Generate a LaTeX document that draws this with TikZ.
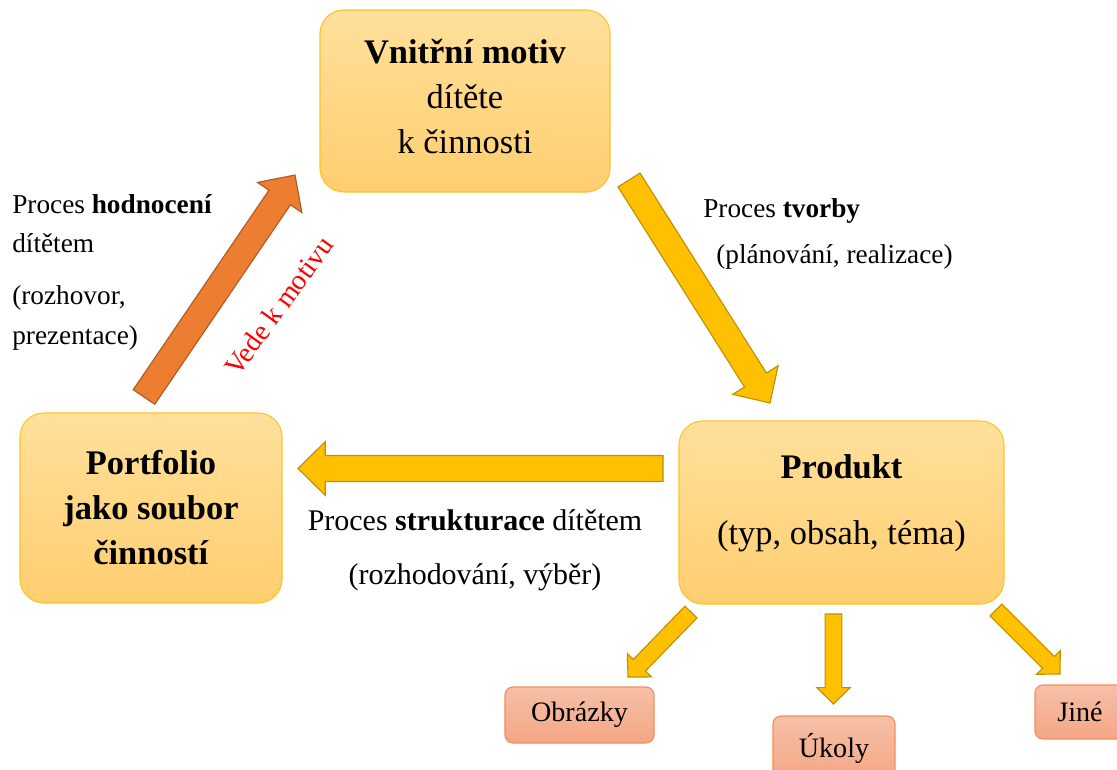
\documentclass[tikz,border=0pt]{standalone}
\usepackage{fontspec}
\setmainfont{Liberation Serif}
\usetikzlibrary{calc}

\definecolor{boxtop}{RGB}{255,224,155}
\definecolor{boxbottom}{RGB}{255,206,112}
\definecolor{boxline}{RGB}{255,196,40}
\definecolor{tagtop}{RGB}{246,192,168}
\definecolor{tagbottom}{RGB}{244,166,132}
\definecolor{tagline}{RGB}{241,143,92}
\definecolor{goldfill}{RGB}{255,192,0}
\definecolor{goldline}{RGB}{191,144,0}
\definecolor{orangefill}{RGB}{237,125,49}
\definecolor{orangeline}{RGB}{174,90,33}

\begin{document}
\begin{tikzpicture}[
		x=0.025cm, y=-0.025cm,
		bigbox/.style={rectangle, rounded corners=0.6cm, draw=boxline, line width=0.8pt, top color=boxtop, bottom color=boxbottom, align=center, font=\fontsize{24.5}{32}\selectfont},
		tagbox/.style={rectangle, rounded corners=0.2cm, draw=tagline, line width=0.8pt, top color=tagtop, bottom color=tagbottom, font=\fontsize{20}{24}\selectfont},
		caption/.style={inner sep=0pt, align=left, font=\fontsize{19.4}{28}\selectfont},
		blockarrow/.style n args={3}{to path={($(\tikztotarget)!#3!(\tikztostart)$) coordinate (head base)
			($(\tikztostart)!#1!90:(\tikztotarget)$) -- ($(head base)!#1!90:(\tikztotarget)$) -- ($(head base)!#2!90:(\tikztotarget)$) -- (\tikztotarget)
			-- ($(head base)!#2!-90:(\tikztotarget)$) -- ($(head base)!#1!-90:(\tikztotarget)$) -- ($(\tikztostart)!#1!-90:(\tikztotarget)$) -- cycle}},
		bigarrow/.style={blockarrow={0.325cm}{0.67cm}{0.68cm}, line width=0.8pt, draw=goldline, fill=goldfill},
		smallarrow/.style={blockarrow={0.21cm}{0.42cm}{0.41cm}, line width=0.8pt, draw=goldline, fill=goldfill}
		]
		\path[use as bounding box, clip] (0, 0) rectangle (1117, 769);

		\node at (465, 101) [name=motive, bigbox, minimum width=7.25cm, minimum height=4.55cm, text depth=7pt] {\textbf{Vnitřní motiv}\\ dítěte\\ k činnosti};
		\node at (151, 508) [name=portfolio, bigbox, minimum width=6.55cm, minimum height=4.75cm] {\textbf{Portfolio}\\ \textbf{jako soubor}\\ \textbf{činností}};
		\node at (841.5, 512.5) [name=product, bigbox, minimum width=8.125cm, minimum height=4.575cm, text depth=18pt] {\textbf{Produkt}\\[15pt] (typ, obsah, téma)};

		\node at (579.5, 715) [name=pictures, tagbox, minimum width=3.725cm, minimum height=1.4cm] {Obrázky};
		\node at (834, 748) [name=tasks, tagbox, minimum width=3.05cm, minimum height=1.6cm] {Úkoly};
		\node at (1080, 712) [name=other, tagbox, minimum width=2.25cm, minimum height=1.35cm] {Jiné};

		\coordinate (creation tail) at (629, 180);
		\coordinate (creation tip) at (770, 403);
		\coordinate (structuring tail) at (663, 468.5);
		\coordinate (structuring tip) at (298, 468.5);
		\coordinate (evaluation tail) at (144, 397);
		\coordinate (evaluation tip) at (295, 175);
		\coordinate (pictures tail) at (691, 612);
		\coordinate (pictures tip) at (628, 677);
		\coordinate (tasks tail) at (833.5, 614);
		\coordinate (tasks tip) at (833.5, 704);
		\coordinate (other tail) at (996, 610);
		\coordinate (other tip) at (1060, 674);

		\draw[bigarrow] (creation tail) to (creation tip);
		\draw[bigarrow] (structuring tail) to (structuring tip);
		\draw[bigarrow, draw=orangeline, fill=orangefill] (evaluation tail) to (evaluation tip);
		\draw[smallarrow] (pictures tail) to (pictures tip);
		\draw[smallarrow] (tasks tail) to (tasks tip);
		\draw[smallarrow] (other tail) to (other tip);

		\node at (12, 194) [name=evaluation text, caption, anchor=north west] {Proces \textbf{hodnocení}\\ dítětem\\[9pt] (rozhovor,\\ prezentace)};
		\node at (703, 198) [name=creation text, caption, anchor=north west] {Proces \textbf{tvorby}};
		\node at (716, 244) [name=creation detail, caption, anchor=north west] {(plánování, realizace)};
		\node at (475, 509) [name=structuring text, caption, anchor=north, align=center, font=\fontsize{21.3}{39}\selectfont] {Proces \textbf{strukturace} dítětem\\ (rozhodování, výběr)};
		\node at (279, 306) [name=motive text, rotate=54, text=red, font=\fontsize{20}{24}\selectfont] {Vede k motivu};
	\end{tikzpicture}
\end{document}
